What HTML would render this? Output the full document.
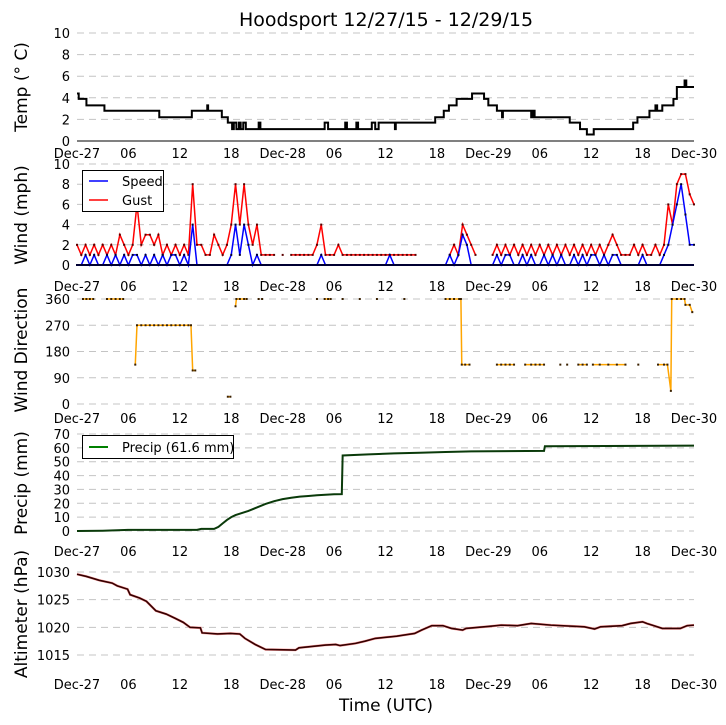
<!DOCTYPE html>
<html><head><meta charset="utf-8"><style>
html,body{margin:0;padding:0;background:#fff;}
svg{display:block;font-family:"DejaVu Sans","Liberation Sans",sans-serif;}
</style></head><body>
<svg id="c" width="726" height="725" viewBox="0 0 726 725" xmlns="http://www.w3.org/2000/svg">
<text x="386" y="26" font-size="19" text-anchor="middle">Hoodsport 12/27/15 - 12/29/15</text>
<text x="386" y="711" font-size="17" text-anchor="middle">Time (UTC)</text>
</svg>
<script>
const xTickLabels=["Dec-27","06","12","18","Dec-28","06","12","18","Dec-29","06","12","18","Dec-30"];
const tempTicks=[0,2,4,6,8,10];
const windTicks=[0,2,4,6,8,10];
const dirTicks=[0,90,180,270,360];
const precTicks=[0,10,20,30,40,50,60,70];
const altTicks=[1015,1020,1025,1030];
const tempH=[0,0.2,1.1,3.2,9.6,13.4,15.2,15.3,16.9,17.6,18.1,18.3,18.6,18.9,19.1,19.4,19.7,21.2,21.4,28.9,29.3,31.3,31.5,32.6,32.8,34.4,34.8,35.2,37.1,37.2,41.8,42.8,43.4,44.3,46.1,47.5,48.0,49.0,49.6,49.7,53.0,53.2,53.4,57.5,58.7,59.5,60.3,64.9,65.4,66.8,67.5,67.7,68.3,69.6,70.0,70.9,71.1,72];
const tempV=[4.4,3.9,3.3,2.8,2.2,2.8,3.3,2.8,2.2,1.7,1.1,1.7,1.1,1.7,1.1,1.7,1.1,1.7,1.1,1.7,1.1,1.7,1.1,1.7,1.1,1.7,1.1,1.7,1.1,1.7,2.2,2.8,3.3,3.9,4.4,3.9,3.3,2.8,2.2,2.8,2.2,2.8,2.2,1.7,1.1,0.6,1.1,1.7,2.2,2.8,3.3,2.8,3.3,3.9,5.0,5.6,5.0,5.0];
// wind sampled every 0.5 h
const gustV=[2,1,2,1,2,1,2, 1,2,1,3,2,1, 2,6,2,3,3,2, 3,1,2,1,2,1,2,1, 8,2,2,1,1,3,2,1,2, 4,8,4,8,4,2,4,1,1,1, 1,null,1,null,1,1,1,1,1,1, 2,4,1,1,1,2, 1,1,1,1,1,1,1,1,1,1,1,1,1,1,1,1,1,1, null,null,null,null,null,null,null, 1,2,1,4,3,2,1, null,null,null, 1,2,1,2,1,2,1,2,1,2,1,2,1,2,1,2,1,2,1,2,1,2,1,2,1,2,1,2, 3,2,1,1,1,2,1,2,1,1,2,1,2, 6,4,8,9,9,7,6];
const speedV=[0,0,1,0,1,0,0,1,0,1,0,1,0, 1,1,0,1,0,1,0,1,0,1,1,0,1,0, 4,0,0,0,0,0,0,0,0, 1,4,1,4,2,0,1,0,0,0, 0,0,0,0,0,0,0,0,0,0, 0,1,0,0,0,0, 0,0,0,0,0,0,0,0,0,0,0,1,0,0,0,0,0,0, 0,0,0,0,0,0,0, 1,0,1,3,2,0,0, 0,0,0, 0,1,0,1,1,0,0,1,0,1,0,0,1,0,1,0,1,0,0,1,0,1,0,1,1,0,1,0, 1,1,0,0,0,0,0,1,0,0,0,0,1, 2,4,6,8,5,2,2];
const dirH=[0.7,1.1,1.5,1.9,null,3.5,4.0,4.5,5.0,5.4,null,6.8,7.0,7.5,8.0,8.5,9.0,9.5,10.0,10.5,11.0,11.5,12.0,12.5,13.0,13.3,13.5,13.8,null,17.6,17.9,null,18.5,18.6,19.0,19.5,19.8,null,21.2,null,21.6,null,28.0,null,28.9,29.3,29.6,null,31.0,null,33.0,null,35.0,null,38.2,null,43.0,43.5,44.0,44.6,44.8,44.9,45.3,45.8,null,49.0,49.5,50.0,50.5,51.0,null,52.3,53.0,53.5,54.0,54.5,null,56.4,null,57.2,null,58.5,59.0,59.5,null,60.2,61.0,62.0,63.0,64.0,null,65.5,null,67.8,68.5,68.9,69.3,69.4,70.0,70.5,70.9,71.0,71.5,71.8];
const dirV=[360,360,360,360,null,360,360,360,360,360,null,135,270,270,270,270,270,270,270,270,270,270,270,270,270,270,115,115,null,25,25,null,335,360,360,360,360,null,360,null,360,null,360,null,360,360,360,null,360,null,360,null,360,null,360,null,360,360,360,360,360,135,135,135,null,135,135,135,135,135,null,135,135,135,135,135,null,135,null,135,null,135,135,135,null,135,135,135,135,135,null,135,null,135,135,135,45,360,360,360,360,340,340,315];
const precH=[0,3,6,14,14.5,16,16.5,17,17.5,18,18.5,19,20,21,22,23,24,25,26,27,28,29,30,30.9,31.0,34,37,40,43,46,54.5,54.6,72];
const precV=[0,0.2,0.8,0.8,1.5,1.5,3,5.5,8,10,11.5,12.5,14.5,17,19.5,21.5,23,24,24.8,25.3,25.8,26.2,26.5,26.6,54.5,55.3,56,56.5,57,57.5,57.8,61.2,61.6];
const altH=[0,1.1,2.6,4.1,4.7,5.9,6.2,7.3,8.1,9.2,10.4,11.5,12.4,13.2,14.4,14.6,16.4,17.9,19.0,19.6,20.8,22,25.5,25.9,29,30.2,30.7,32.5,33.6,34.8,37.3,39.4,40.2,41.4,42.7,43.7,45,45.4,48.3,49.5,51.4,53,55.3,59.2,60.4,61.1,63.6,64.6,66,66.5,67.3,68.3,70.4,71.2,72];
const altV=[1029.6,1029.2,1028.5,1028,1027.5,1026.9,1025.9,1025.3,1024.7,1023,1022.4,1021.6,1020.9,1020,1019.9,1019,1018.8,1018.9,1018.8,1018.0,1016.9,1016.0,1015.9,1016.3,1016.8,1016.9,1016.7,1017.1,1017.5,1018.0,1018.4,1018.9,1019.5,1020.3,1020.3,1019.8,1019.5,1019.8,1020.2,1020.4,1020.3,1020.7,1020.4,1020.1,1019.7,1020.1,1020.3,1020.7,1021.0,1020.7,1020.3,1019.8,1019.8,1020.3,1020.4];

const NS="http://www.w3.org/2000/svg";
const svg=document.getElementById('c');
const X0=77,X1=694;
const xs=h=>X0+h*(X1-X0)/72;
const yTemp=v=>141-v*10.8;
const yWind=v=>265-v*10.1;
const yDir=v=>404-v*105/360;
const yPrec=v=>531-v*97/70;
const yAlt=v=>655-(v-1015)*5.533;
function mk(tag,attrs,parent){const e=document.createElementNS(NS,tag);for(const k in attrs)e.setAttribute(k,attrs[k]);(parent||svg).appendChild(e);return e;}

function panel(name,ticks,ys,labelRow,ylabel,ylx,yly){
  const g=mk('g',{});
  
  
  ticks.forEach(t=>{
    const ln=mk('line',{x1:X0,x2:X1,y1:ys(t),y2:ys(t),stroke:'#c4c4c4','stroke-width':1,'stroke-dasharray':'7,5'},g);
    
    
    const tx=mk('text',{x:70,y:ys(t)+5,'font-size':13,'text-anchor':'end'},g);
    tx.textContent=t;
    
    
  });
  xTickLabels.forEach((l,i)=>{
    const tx=mk('text',{x:xs(i*6),y:labelRow+5,'font-size':13,'text-anchor':'middle'},g);
    tx.textContent=l;
    
    
  });
  const yl=mk('text',{x:ylx,y:yly,'font-size':17,'text-anchor':'middle',transform:`rotate(-90 ${ylx} ${yly})`},g);
  yl.textContent=ylabel;
  
  
  return g;
}
const gT=panel('temp',tempTicks,yTemp,153,'Temp (\u00B0 C)',27,87);
const gW=panel('wind',windTicks,yWind,286,'Wind (mph)',27,215);
const gD=panel('wind-direction',dirTicks,yDir,418,'Wind Direction',27,350);
const gP=panel('precip',precTicks,yPrec,551,'Precip (mm)',27,483);
const gA=panel('altimeter',altTicks,yAlt,684,'Altimeter (hPa)',27,614);

const ax=mk('line',{x1:X0,x2:X1,y1:141,y2:141,stroke:'#000','stroke-width':1});



let d='';
tempH.forEach((h,i)=>{const x=xs(h),y=yTemp(tempV[i]);if(i===0)d+=`M${x},${y}`;else d+=`H${x}V${y}`;});
const tl=mk('path',{d:d,fill:'none',stroke:'#000','stroke-width':2});



function seriesPath(hs,vs,yf){let p='',pen=false;hs.forEach((h,i)=>{const v=vs[i];if(h===null||v===null){pen=false;return;}p+=(pen?'L':'M')+xs(h)+','+yf(v);pen=true;});return p;}
function markers(hs,vs,yf,color,sz,name,g){hs.forEach((h,i)=>{const v=vs[i];if(h===null||v===null)return;const r=mk('rect',{x:xs(h)-sz/2,y:yf(v)-sz/2,width:sz,height:sz,fill:color},g);});}

const windH=gustV.map((_,i)=>i/2);
const gl=mk('path',{d:seriesPath(windH,gustV,yWind),fill:'none',stroke:'#ff0000','stroke-width':1.5});


markers(windH,gustV,yWind,'#5a0000',2,'gust-marker',svg);
const sl=mk('path',{d:seriesPath(windH,speedV,yWind),fill:'none',stroke:'#0000ff','stroke-width':1.5});


const base=mk('line',{x1:X0,x2:X1,y1:yWind(0),y2:yWind(0),stroke:'#000033','stroke-width':2});


markers(windH,speedV,yWind,'#000033',2,'speed-marker',svg);

const lg=mk('g',{});


mk('rect',{x:82.5,y:170.5,width:81,height:41,fill:'#fff',stroke:'#000','stroke-width':1},lg);
mk('line',{x1:89,x2:108,y1:181,y2:181,stroke:'#0000ff','stroke-width':1.5},lg);
mk('line',{x1:89,x2:108,y1:200,y2:200,stroke:'#ff0000','stroke-width':1.5},lg);
let t1=mk('text',{x:122,y:186,'font-size':13},lg);t1.textContent='Speed';


let t2=mk('text',{x:122,y:205,'font-size':13},lg);t2.textContent='Gust';



const dl=mk('path',{d:seriesPath(dirH,dirV,yDir),fill:'none',stroke:'#ffa500','stroke-width':1.5});


markers(dirH,dirV,yDir,'#3a2000',2,'wind-direction-marker',svg);

const pl=mk('path',{d:seriesPath(precH,precV,yPrec),fill:'none',stroke:'#0a3a0a','stroke-width':2});


const pg=mk('g',{});


mk('rect',{x:82.5,y:435.5,width:151,height:23,fill:'#fff',stroke:'#000','stroke-width':1},pg);
mk('line',{x1:89,x2:108,y1:447,y2:447,stroke:'#008000','stroke-width':2},pg);
let t3=mk('text',{x:122,y:452,'font-size':13},pg);t3.textContent='Precip (61.6 mm)';



const al0=mk('path',{d:seriesPath(altH,altV,yAlt),fill:'none',stroke:'#ffa0a0','stroke-width':2.5});


const al=mk('path',{d:seriesPath(altH,altV,yAlt),fill:'none',stroke:'#330000','stroke-width':1.6});


</script>
</body></html>
